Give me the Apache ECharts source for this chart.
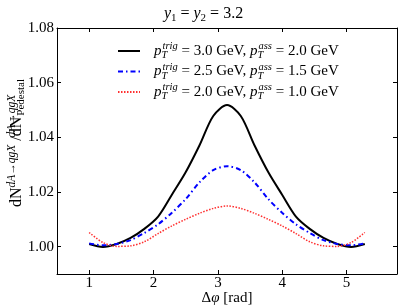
<!DOCTYPE html>
<html><head><meta charset="utf-8">
<script src="https://cdn.jsdelivr.net/npm/echarts@6/dist/echarts.min.js"></script>
<style>html,body{margin:0;padding:0;background:#fff}#c{width:407px;height:305px}</style>
</head><body><div id="c"></div>
<script>
const dphi = [1.000,1.214,1.428,1.643,1.857,2.071,2.285,2.499,2.713,2.928,3.142,3.356,3.570,3.784,3.998,4.213,4.427,4.641,4.855,5.069,5.283];
const ratioHigh = [1.0010,0.9999,1.0010,1.0032,1.0065,1.0110,1.0190,1.0272,1.0370,1.0478,1.0518,1.0478,1.0370,1.0272,1.0190,1.0110,1.0065,1.0032,1.0010,0.9999,1.0010];
const ratioMid  = [1.0012,1.0005,1.0010,1.0024,1.0050,1.0082,1.0124,1.0174,1.0235,1.0280,1.0294,1.0280,1.0235,1.0174,1.0124,1.0082,1.0050,1.0024,1.0010,1.0005,1.0012];
const ratioLow  = [1.0052,1.0015,1.0001,1.0003,1.0018,1.0048,1.0076,1.0100,1.0122,1.0140,1.0149,1.0140,1.0122,1.0100,1.0076,1.0048,1.0018,1.0003,1.0001,1.0015,1.0052];
const ptTrig = ['3.0','2.5','2.0'];
const ptAss = ['2.0','1.5','1.0'];
const xTicks = [1,2,3,4,5];
const yTicks = [1.00,1.02,1.04,1.06,1.08];
const yMin = 0.99, yMax = 1.08;

const FONT = 'Liberation Serif';
const names = ptTrig.map((t,i)=>'pT trig '+t+' GeV, pT ass '+ptAss[i]+' GeV');
const base = {fontFamily:FONT,color:'#000',fontWeight:'normal'};
const st = (o)=>Object.assign({},base,o);
const legendRich = {
  n:st({fontSize:15,lineHeight:20}),
  i:st({fontSize:15,lineHeight:20,fontStyle:'italic'}),
  ip:st({fontSize:15,lineHeight:20,fontStyle:'italic',padding:[0,0,0,9]}),
  sup:st({fontSize:10.5,lineHeight:12,fontStyle:'italic',verticalAlign:'top'}),
  sub:st({fontSize:10.5,lineHeight:11,fontStyle:'italic',verticalAlign:'bottom',width:1})
};
const yRich = {
  n0:st({fontSize:16,lineHeight:21,padding:[0,0,0,16]}),
  n:st({fontSize:16,lineHeight:21}),
  sup:st({fontSize:11.5,lineHeight:12,fontStyle:'italic',verticalAlign:'top'}),
  supw:st({fontSize:11.5,lineHeight:12,fontStyle:'italic',verticalAlign:'top',width:1}),
  sub:st({fontSize:11,lineHeight:10,verticalAlign:'bottom'})
};
const chart = echarts.init(document.getElementById('c'));
const mk = (arr)=>dphi.map((x,i)=>[x,arr[i]]);
chart.setOption({
  animation:false,
  backgroundColor:'#fff',
  title:[{
    text:'{i|y}{s|1}{n| = }{i|y}{s|2}{n| = 3.2}',
    left:'center', top:-1,
    textStyle:{fontWeight:'normal',rich:{
      n:st({fontSize:16,lineHeight:20}),
      i:st({fontSize:16,lineHeight:20,fontStyle:'italic'}),
      s:st({fontSize:11,lineHeight:12,verticalAlign:'bottom'})
    }}
  },{
    text:'{n|Δ}{i|φ}{n| [rad]}',
    left:227, textAlign:'center', top:290, padding:0,
    textStyle:{fontWeight:'normal',rich:{
      n:st({fontSize:15,lineHeight:16}),
      i:st({fontSize:15,lineHeight:16,fontStyle:'italic'})
    }}
  }],
  grid:{left:57,right:10,top:28,bottom:31,outerBoundsMode:'none'},
  legend:{
    orient:'vertical', left:117, top:41, padding:0, itemWidth:22, itemHeight:10, itemGap:0.5,
    data:names,
    itemStyle:{opacity:0},
    formatter:(name)=>{const i=names.indexOf(name);
      return '{ip|p}{sub|T}{sup|trig}{n| = '+ptTrig[i]+' GeV, }{i|p}{sub|T}{sup|ass}{n| = '+ptAss[i]+' GeV}';},
    textStyle:{rich:legendRich}
  },
  xAxis:[{
    type:'value', min:0.5, max:2*Math.PI-0.5, position:'bottom',
    axisLine:{show:true,onZero:false,lineStyle:{color:'#000',width:1}},
    axisTick:{show:true,inside:true,length:4,customValues:xTicks,lineStyle:{color:'#000'}},
    axisLabel:{show:false},
    splitLine:{show:false}
  },{
    type:'value', min:0.5, max:2*Math.PI-0.5, position:'top',
    axisLine:{show:true,onZero:false,lineStyle:{color:'#000',width:1}},
    axisTick:{show:true,inside:true,length:4,customValues:xTicks,lineStyle:{color:'#000'}},
    axisLabel:{show:false}, splitLine:{show:false}
  }],
  yAxis:[{
    type:'value', min:yMin, max:yMax, position:'left',
    axisLine:{show:true,onZero:false,lineStyle:{color:'#000',width:1}},
    axisTick:{show:true,inside:true,length:4,customValues:yTicks,lineStyle:{color:'#000'}},
    axisLabel:{customValues:yTicks,formatter:v=>v.toFixed(2),fontFamily:FONT,fontSize:15,color:'#000',margin:3},
    splitLine:{show:false},
    name:'{n0|dN}{sup|dA→qgX}{n| /dN}{supw|dA→qgX}{sub|Pedestal}',
    nameLocation:'middle', nameRotate:90, nameGap:30, nameMoveOverlap:false,
    nameTextStyle:{rich:yRich}
  },{
    type:'value', min:yMin, max:yMax, position:'right',
    axisLine:{show:true,onZero:false,lineStyle:{color:'#000',width:1}},
    axisTick:{show:true,inside:true,length:4,customValues:yTicks,lineStyle:{color:'#000'}},
    axisLabel:{show:false}, splitLine:{show:false}
  }],
  series:[
    {name:names[0],type:'line',data:mk(ratioHigh),symbol:'none',smooth:0.3,
     lineStyle:{color:'#000',width:2},itemStyle:{color:'#000'}},
    {name:names[1],type:'line',data:mk(ratioMid),symbol:'none',smooth:0.3,
     lineStyle:{color:'#0000ff',width:2,type:[5,3,1.5,3]},itemStyle:{color:'#0000ff'}},
    {name:names[2],type:'line',data:mk(ratioLow),symbol:'none',smooth:0.3,
     lineStyle:{color:'#ff3030',width:1.5,type:[1.5,1.5]},itemStyle:{color:'#ff3030'}}
  ]
});
// x tick labels placed through the axis scale
const tickLabels = xTicks.map(v=>{
  const p = chart.convertToPixel({xAxisIndex:0,yAxisIndex:0},[v,yMin]);
  return {type:'text',x:p[0],y:p[1]+2,silent:true,
    style:{text:String(v),fontFamily:FONT,fontSize:15,fill:'#000',align:'center',verticalAlign:'top'}};
});
chart.setOption({graphic:tickLabels});
</script></body></html>
